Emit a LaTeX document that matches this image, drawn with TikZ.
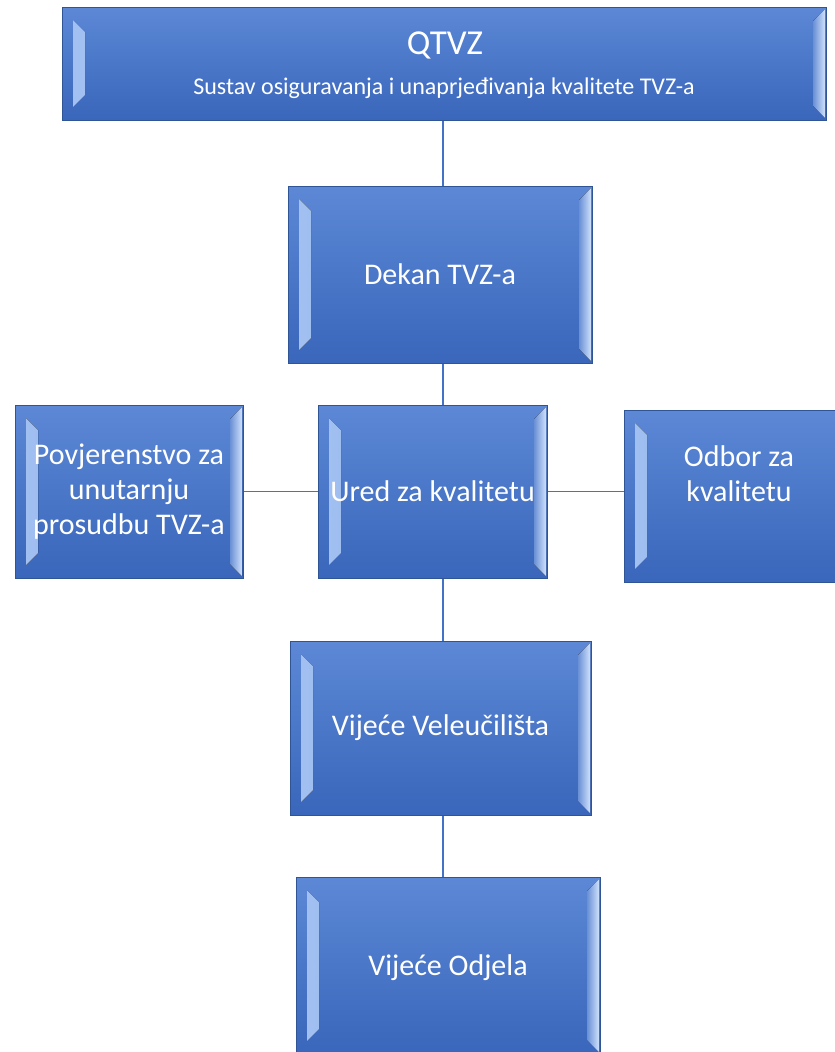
\documentclass[tikz,border=0pt]{standalone}
\usepackage{fontspec}
\setmainfont{Carlito}
\usetikzlibrary{calc,backgrounds}
\definecolor{boxtop}{HTML}{5C88D6}
\definecolor{boxbot}{HTML}{3A66BB}
\definecolor{boxedge}{HTML}{2F5597}
\definecolor{bevouterL}{HTML}{A3C1F2}
\definecolor{bevinnerL}{HTML}{7A9FE0}
\definecolor{bevinnerR}{HTML}{6A90D6}
\definecolor{bevouterR}{HTML}{CFE1FB}
\definecolor{linkcol}{HTML}{4472C4}
\tikzset{
  bevbox/.style={rectangle, draw=boxedge, line width=1pt,
    top color=boxtop, bottom color=boxbot, text=white, align=center,
    inner sep=0pt, font=\fontsize{30}{35}\selectfont,
    path picture={
      \fill[left color=bevouterL, right color=bevinnerL]
        let \p1=(path picture bounding box.south west),
            \p2=(path picture bounding box.north east) in
        (\x1+11pt,\y2-13pt) -- (\x1+23pt,\y2-25pt) -- (\x1+23pt,\y1+25pt)
        -- (\x1+11pt,\y1+13pt) -- cycle;
      \fill[left color=bevinnerR, right color=bevouterR]
        let \p1=(path picture bounding box.south west),
            \p2=(path picture bounding box.north east) in
        (\x2-1pt,\y2-2pt) -- (\x2-13pt,\y2-14pt) -- (\x2-13pt,\y1+14pt)
        -- (\x2-1pt,\y1+2pt) -- cycle;
    }},
  boxtext/.style={text=white, align=center, inner sep=0pt,
    font=\fontsize{30}{35}\selectfont},
  link/.style={draw=linkcol, line width=1.6pt}
}
\begin{document}
\begin{tikzpicture}[x=1pt,y=-1pt]
\useasboundingbox (0,0) rectangle (835,1052);
\clip (0,0) rectangle (835,1052);
\coordinate (spine) at (443,0);

\node[bevbox, minimum width=764pt, minimum height=113pt] (q) at (444,63.5) {};
\node[boxtext, font=\fontsize{35}{40}\selectfont] (qt) at (445,45) {QTVZ};
\node[boxtext, font=\fontsize{24}{28}\selectfont] (qs) at (444,88) {Sustav osiguravanja i unaprjeđivanja kvalitete TVZ-a};

\node[bevbox, minimum width=304pt, minimum height=177pt] (dekan) at (440,274.5) {Dekan TVZ-a};

\node[bevbox, minimum width=228pt, minimum height=173pt] (pov) at (129,491.5) {Povjerenstvo za\\unutarnju\\prosudbu TVZ-a};
\node[bevbox, minimum width=229pt, minimum height=173pt] (ured) at (432.5,491.5) {Ured za kvalitetu};
\node[bevbox, minimum width=230pt, minimum height=172pt] (odbor) at (739,496) {};
\node[boxtext] (odbortxt) at (739,474) {Odbor za\\kvalitetu};

\node[bevbox, minimum width=301pt, minimum height=174pt] (vel) at (440.5,728) {Vijeće Veleučilišta};
\node[bevbox, minimum width=304pt, minimum height=177pt] (odj) at (448,965.5) {};
\node[boxtext] (odjtxt) at (448,968) {Vijeće Odjela};

\begin{scope}[on background layer]
\fill[white] (0,0) rectangle (835,1052);
\draw[link] (spine |- q.south) -- (spine |- dekan.north);
\draw[link] (spine |- dekan.south) -- (spine |- ured.north);
\draw[link] (spine |- ured.south) -- (spine |- vel.north);
\draw[link] (spine |- vel.south) -- (spine |- odj.north);
\draw[link] (pov.east) -- (ured.west);
\draw[link] (ured.east) -- (odbor.west |- ured.east);
\end{scope}
\end{tikzpicture}
\end{document}
